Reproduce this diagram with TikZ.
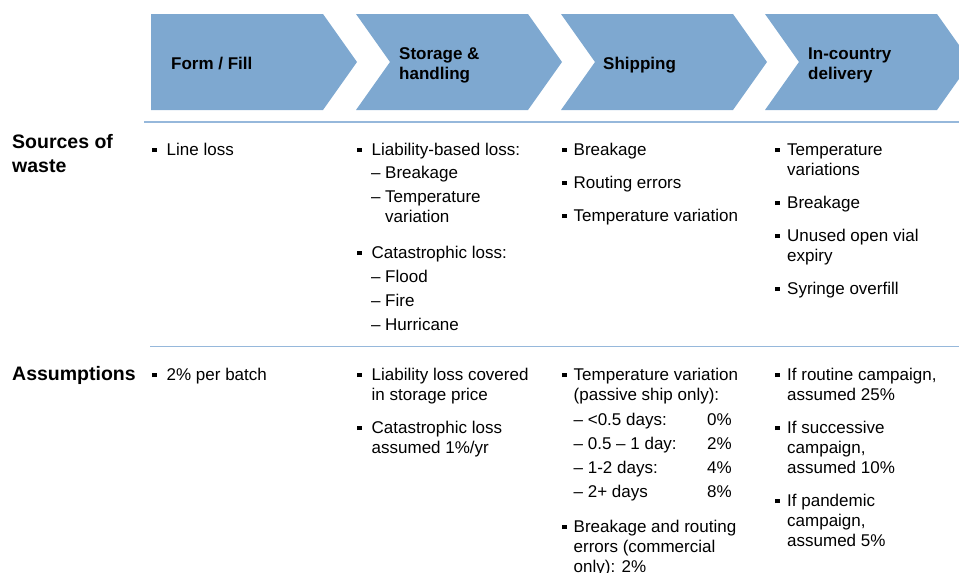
\documentclass[tikz,border=0pt]{standalone}
\usepackage{fontspec}
\setmainfont{Liberation Sans}
\usepackage{xcolor}
\definecolor{stageblue}{RGB}{126,168,208}
\definecolor{ruleblue}{RGB}{150,184,219}
\newcommand{\bul}[1][14.5pt]{\makebox[#1][l]{\rule[3pt]{4.5pt}{4.5pt}}}
\newcommand{\dsh}{\makebox[14pt][l]{–}}
\newcommand{\lines}[1]{\begin{tabular}[t]{@{}l@{}}#1\end{tabular}}

\begin{document}
\begin{tikzpicture}[x=1pt, y=-1pt,
  stage/.style={fill=stageblue},
  cell/.style={anchor=base west, inner sep=0pt, font=\fontsize{17}{20}\selectfont},
  head/.style={cell, font=\fontsize{17}{20}\selectfont\bfseries},
  rowlabel/.style={anchor=base west, inner sep=0pt, font=\fontsize{19.5}{24}\selectfont\bfseries}]

  \useasboundingbox (0,0) rectangle (959,573);

  % process chevrons
  \fill[stage] (151,14) -- (323,14) -- (357,62) -- (323,110) -- (151,110) -- cycle;
  \fill[stage] (356,14) -- (528,14) -- (562,62) -- (528,110) -- (356,110) -- (390,62) -- cycle;
  \fill[stage] (561,14) -- (733,14) -- (767,62) -- (733,110) -- (561,110) -- (595,62) -- cycle;
  \fill[stage] (765,14) -- (937,14) -- (971,62) -- (937,110) -- (765,110) -- (799,62) -- cycle;

  \node[head] (h1) at (171,69) {Form / Fill};
  \node[head] (h2) at (399,59.5) {\lines{Storage \&\\handling}};
  \node[head] (h3) at (603,69) {Shipping};
  \node[head] (h4) at (808,59.5) {\lines{In-country\\delivery}};

  % row rules
  \draw[ruleblue, line width=2.2pt] (144,122) -- (959,122);
  \draw[ruleblue, line width=1pt] (150,346) -- (959,346);

  % row labels
  \node[rowlabel] (srcs) at (12,148.5) {\lines{Sources of\\waste}};
  \node[rowlabel] (assum) at (12,380) {Assumptions};

  % sources of waste
  \node[cell] (s1) at (152,155) {\bul Line loss};

  \node[cell] (s2a) at (357,155) {\bul Liability-based loss:};
  \node[cell] (s2b) at (371,178.5) {\dsh Breakage};
  \node[cell] (s2c) at (371,202.5) {\dsh\lines{Temperature\\variation}};
  \node[cell] (s2d) at (357,258) {\bul Catastrophic loss:};
  \node[cell] (s2e) at (371,282) {\dsh Flood};
  \node[cell] (s2f) at (371,306) {\dsh Fire};
  \node[cell] (s2g) at (371,330) {\dsh Hurricane};

  \node[cell] (s3a) at (562,155) {\bul[11.5pt]Breakage};
  \node[cell] (s3b) at (562,188) {\bul[11.5pt]Routing errors};
  \node[cell] (s3c) at (562,221) {\bul[11.5pt]Temperature variation};

  \node[cell] (s4a) at (775,155) {\bul[12pt]\lines{Temperature\\variations}};
  \node[cell] (s4b) at (775,208) {\bul[12pt]Breakage};
  \node[cell] (s4c) at (775,241) {\bul[12pt]\lines{Unused open vial\\expiry}};
  \node[cell] (s4d) at (775,294) {\bul[12pt]Syringe overfill};

  % assumptions
  \node[cell] (a1) at (152,380) {\bul 2\% per batch};

  \node[cell] (a2a) at (357,380) {\bul\lines{Liability loss covered\\in storage price}};
  \node[cell] (a2b) at (357,433) {\bul\lines{Catastrophic loss\\assumed 1\%/yr}};

  \node[cell] (a3a) at (562,380) {\bul[11.5pt]\lines{Temperature variation\\(passive ship only):}};
  \node[cell] (a3b) at (573.5,425) {\makebox[133.5pt][l]{– <0.5 days:}0\%};
  \node[cell] (a3c) at (573.5,449) {\makebox[133.5pt][l]{– 0.5 – 1 day:}2\%};
  \node[cell] (a3d) at (573.5,473) {\makebox[133.5pt][l]{– 1-2 days:}4\%};
  \node[cell] (a3e) at (573.5,497) {\makebox[133.5pt][l]{– 2+ days}8\%};
  \node[cell] (a3f) at (562,532) {\bul[11.5pt]\lines{Breakage and routing\\errors (commercial\\only): 2\%}};

  \node[cell] (a4a) at (775,380) {\bul[12pt]\lines{If routine campaign,\\assumed 25\%}};
  \node[cell] (a4b) at (775,433) {\bul[12pt]\lines{If successive\\campaign,\\assumed 10\%}};
  \node[cell] (a4c) at (775,506) {\bul[12pt]\lines{If pandemic\\campaign,\\assumed 5\%}};

\end{tikzpicture}
\end{document}
